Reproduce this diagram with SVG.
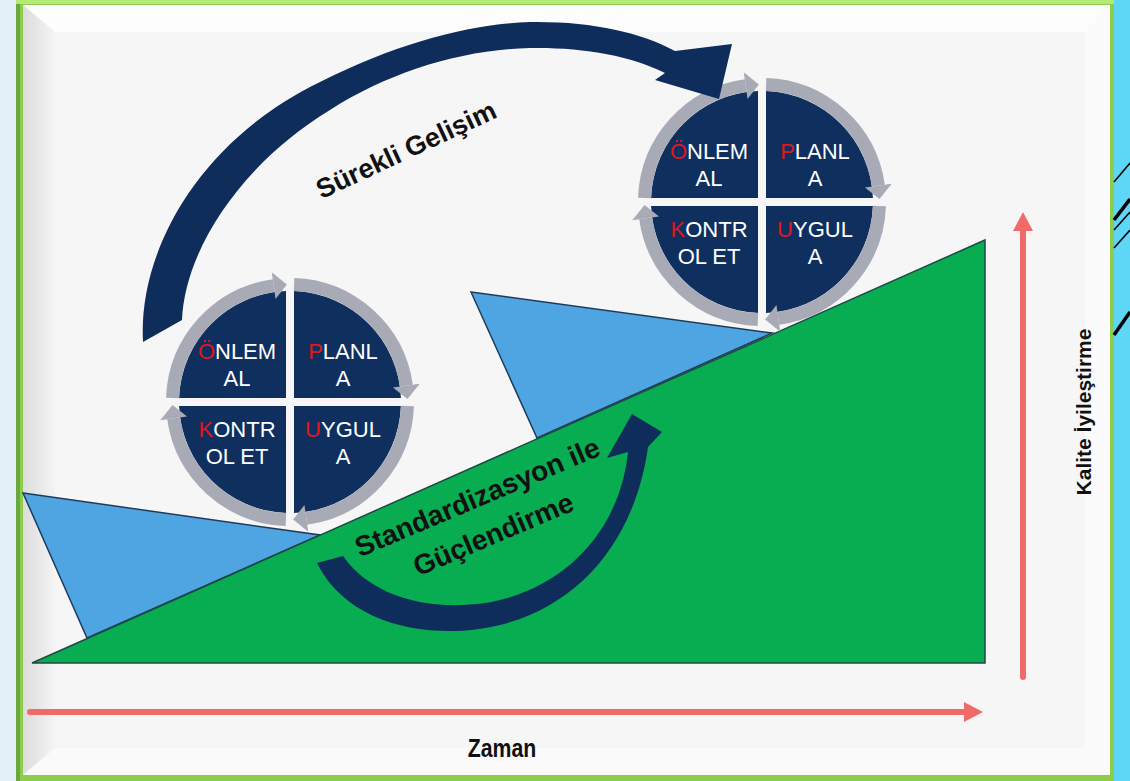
<svg xmlns="http://www.w3.org/2000/svg" xmlns:xlink="http://www.w3.org/1999/xlink" width="1130" height="781" viewBox="0 0 1130 781">
<style>
.q{fill:#0f2f5f}
.ring{fill:none;stroke:#a8abb5;stroke-width:13}
.rhead{fill:#a8abb5}
.pt{font-family:"Liberation Sans",Arial,sans-serif;font-size:22px;fill:#ffffff;text-anchor:middle}
.red{fill:#e3151b}
.lbl{font-family:"Liberation Sans",Arial,sans-serif;font-weight:bold;fill:#111111;text-anchor:middle}
.navy{fill:#0f2d5a}
.axis{stroke:#f06a6a;stroke-width:6;fill:none}
.blue{fill:#4fa5e2;stroke:#1e3c5a;stroke-width:1.5}
.green{fill:#08ad52;stroke:#1c4a44;stroke-width:1.5}
.blk{stroke:#000;fill:none}
</style>
<defs>
<linearGradient id="lg" x1="0" y1="0" x2="1" y2="0">
<stop offset="0" stop-color="#dcdcdc"/><stop offset="1" stop-color="#f4f4f4"/>
</linearGradient>
<marker id="redHead" viewBox="0 0 20 20" markerWidth="20" markerHeight="20" refX="0" refY="10" orient="auto" markerUnits="userSpaceOnUse">
<path d="M0,0 L19,10 L0,20 Z" fill="#f06a6a"/>
</marker>
<path id="quad" class="q" d="M -4 -4 L -110.93 -4 A 111 111 0 0 1 -4 -110.93 Z"/>
<g id="seg">
<path class="ring" d="M -117.43 -4.10 A 117.5 117.5 0 0 1 -16.35 -116.36"/>
<path class="rhead" d="M -14.47 -102.99 L -18.23 -129.73 L -3.08 -117.46 Z"/>
</g>
<g id="wheel">
<use xlink:href="#quad"/>
<use xlink:href="#quad" transform="rotate(90)"/>
<use xlink:href="#quad" transform="rotate(180)"/>
<use xlink:href="#quad" transform="rotate(270)"/>
<use xlink:href="#seg"/>
<use xlink:href="#seg" transform="rotate(90)"/>
<use xlink:href="#seg" transform="rotate(180)"/>
<use xlink:href="#seg" transform="rotate(270)"/>
</g>
</defs>

<g id="frame">
<rect x="0" y="0" width="1130" height="781" fill="#e4f0f8"/>
<rect x="1112" y="0" width="18" height="781" fill="#5ed6f6"/>
<rect x="16" y="0" width="1098" height="781" fill="#8cce4c"/>
<rect x="16" y="0" width="4" height="781" fill="#6aa83e"/>
<rect x="16" y="0" width="1098" height="4" fill="#b2ea74"/>
<rect x="23" y="5" width="1087" height="770" fill="#f6f6f6"/>
<polygon points="23,5 1110,5 1085,32 55,32" fill="#fdfdfd"/>
<polygon points="23,5 55,32 55,748 23,775" fill="url(#lg)"/>
<polygon points="23,775 55,748 1085,748 1110,775" fill="#fafafa"/>
<polygon points="1110,5 1110,775 1085,748 1085,32" fill="#fbfbfb"/>
<line class="blk" x1="1114" y1="182" x2="1130" y2="163" stroke-width="1.5"/>
<line class="blk" x1="1114" y1="220" x2="1130" y2="199" stroke-width="3.5"/>
<line class="blk" x1="1114" y1="230" x2="1130" y2="212" stroke-width="1.5"/>
<line class="blk" x1="1114" y1="248" x2="1130" y2="230" stroke-width="1.5"/>
<line class="blk" x1="1114" y1="335" x2="1130" y2="312" stroke-width="3.5"/>
</g>

<g id="chart">
<polygon id="tri-left" class="blue" points="23,493 320,535 87,638"/>
<polygon id="tri-right" class="blue" points="471,292 772,333 537,438"/>
<polygon id="slope" class="green" points="32,663 985,240 985,663"/>
</g>

<g id="pdca-left" transform="translate(290,402)">
<use xlink:href="#wheel"/>
<text class="pt" x="-53" y="-43"><tspan class="red">Ö</tspan>NLEM</text>
<text class="pt" x="-53" y="-16">AL</text>
<text class="pt" x="53" y="-43"><tspan class="red">P</tspan>LANL</text>
<text class="pt" x="53" y="-16">A</text>
<text class="pt" x="-53" y="35"><tspan class="red">K</tspan>ONTR</text>
<text class="pt" x="-53" y="62">OL ET</text>
<text class="pt" x="53" y="35"><tspan class="red">U</tspan>YGUL</text>
<text class="pt" x="53" y="62">A</text>
</g>

<g id="pdca-right" transform="translate(762,202)">
<use xlink:href="#wheel"/>
<text class="pt" x="-53" y="-43"><tspan class="red">Ö</tspan>NLEM</text>
<text class="pt" x="-53" y="-16">AL</text>
<text class="pt" x="53" y="-43"><tspan class="red">P</tspan>LANL</text>
<text class="pt" x="53" y="-16">A</text>
<text class="pt" x="-53" y="35"><tspan class="red">K</tspan>ONTR</text>
<text class="pt" x="-53" y="62">OL ET</text>
<text class="pt" x="53" y="35"><tspan class="red">U</tspan>YGUL</text>
<text class="pt" x="53" y="62">A</text>
</g>

<g id="connectors">
<path id="arrow-surekli" class="navy" d="M 143,342 C 138,250 200,140 320,82 C 400,42 470,24 530,22 C 590,21 640,32 675,51 L 732,44 L 719,99 L 655,80 L 665,73 C 630,55 580,47 530,48 C 460,50 390,72 330,110 C 240,165 185,250 182,320 Z"/>
<path id="arrow-standard" class="navy" d="M 317,563 C 350,630 440,640 500,625 C 580,605 635,540 648,447 L 662,432 L 632,414 L 607,458 L 628,452 C 620,530 565,590 485,603 C 420,612 368,592 343,556 Z"/>
<line id="axis-time" class="axis" x1="30" y1="712" x2="964" y2="712" stroke-linecap="round" marker-end="url(#redHead)"/>
<line id="axis-quality" class="axis" x1="1023" y1="677" x2="1023" y2="231" stroke-linecap="round" marker-end="url(#redHead)"/>
</g>

<g id="labels">
<text class="lbl" font-size="27" transform="translate(410,158) rotate(-25)">Sürekli Gelişim</text>
<text class="lbl" font-size="28" transform="translate(481,506) rotate(-23)">Standardizasyon ile</text>
<text class="lbl" font-size="28" transform="translate(497,543) rotate(-23)">Güçlendirme</text>
<text class="lbl" font-size="21" transform="translate(1091,412) rotate(-90)">Kalite İyileştirme</text>
<text class="lbl" font-size="25" transform="translate(502,757) scale(0.85,1)">Zaman</text>
</g>
</svg>
